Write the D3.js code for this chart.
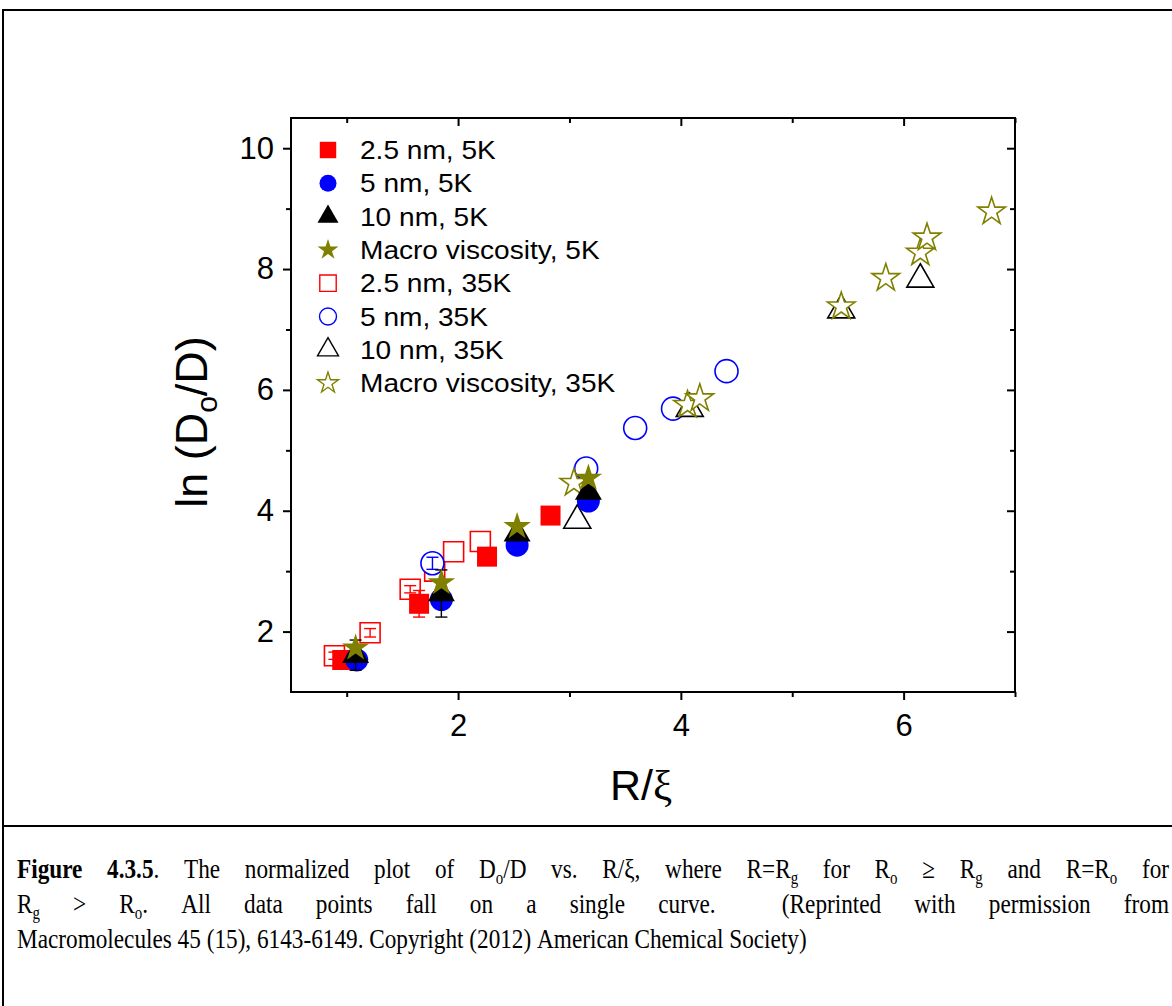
<!DOCTYPE html>
<html>
<head>
<meta charset="utf-8">
<script src="https://cdn.jsdelivr.net/npm/d3@7"></script>
<style>
  body { margin: 0; background: #fff; }
  svg { display: block; }
</style>
</head>
<body>
<svg id="fig" width="1172" height="1006"></svg>
<script>
// ---- data: R/xi (x), ln(Do/D) (y), error half-heights ----
// 5K matrix (filled markers)
const sq5K_x  = [0.96, 1.65, 2.26, 2.83];
const sq5K_y  = [1.53, 2.46, 3.24, 3.92];
const sq5K_e  = [0.06, 0.22, 0, 0];

const ci5K_x  = [1.09, 1.85, 2.53, 3.17];
const ci5K_y  = [1.53, 2.53, 3.43, 4.16];
const ci5K_e  = [0, 0, 0, 0];

const tr5K_x  = [1.08, 1.85, 2.53, 3.17];
const tr5K_y  = [1.61, 2.63, 3.62, 4.31];
const tr5K_e  = [0.25, 0.39, 0, 0];

const st5K_x  = [1.08, 1.85, 2.53, 3.17];
const st5K_y  = [1.73, 2.81, 3.74, 4.54];

// 35K matrix (open markers)
const sq35K_x = [0.89, 1.21, 1.57, 1.79, 1.96, 2.20];
const sq35K_y = [1.60, 1.98, 2.70, 3.00, 3.32, 3.49];
const sq35K_e = [0.06, 0.07, 0.06, 0, 0, 0];

const ci35K_x = [1.77, 3.15, 3.59, 3.93, 4.41];
const ci35K_y = [3.13, 4.70, 5.37, 5.69, 6.31];
const ci35K_e = [0.10, 0, 0, 0, 0];

const tr35K_x = [3.07, 4.08, 5.44, 6.15];
const tr35K_y = [3.84, 5.69, 7.32, 7.83];

const st35K_x = [3.04, 4.06, 4.17, 5.44, 5.84, 6.15, 6.21, 6.79];
const st35K_y = [4.46, 5.75, 5.86, 7.38, 7.85, 8.27, 8.52, 8.95];

const legendLabels = [
  "2.5 nm, 5K", "5 nm, 5K", "10 nm, 5K", "Macro viscosity, 5K",
  "2.5 nm, 35K", "5 nm, 35K", "10 nm, 35K", "Macro viscosity, 35K"
];

const xMajorTicks = [2, 4, 6];
const xMinorTicks = [1, 3, 5, 7];
const yMajorTicks = [2, 4, 6, 8, 10];
const yMinorTicks = [3, 5, 7, 9];

const captionLines = [
  "**Figure 4.3.5**. The normalized plot of D_{o}/D vs. R/ξ, where R=R_{g} for R_{o} ≥ R_{g} and R=R_{o} for",
  "R_{g} > R_{o}. All data points fall on a single curve.  (Reprinted with permission from",
  "Macromolecules 45 (15), 6143-6149. Copyright (2012) American Chemical Society)"
];

// ---- colours ----
const RED = "#ff0000", BLUE = "#0000ff", BLACK = "#000000", OLIVE = "#808000";

const svg = d3.select("#fig");
const SANS = "'Liberation Sans', Arial, sans-serif";
const SERIF = "'Liberation Serif', 'Times New Roman', serif";

// ---- outer frame of the figure ----
svg.append("path")
  .attr("d", "M1172,10 H3 V1006 M3,826 H1172")
  .attr("fill", "none").attr("stroke", "#000").attr("stroke-width", 2);

// ---- scales ----
const plot = { left: 291, right: 1015, top: 118, bottom: 692 };
const x = d3.scaleLinear().domain([0.5, 7]).range([plot.left, plot.right]);
const y = d3.scaleLinear().domain([1, 10.5]).range([plot.bottom, plot.top]);

// ---- axes ----
function styleAxis(g) {
  g.select(".domain").remove();
  g.selectAll("line").attr("stroke", "#000").attr("stroke-width", 2);
  g.selectAll("text").attr("font-family", SANS).attr("font-size", 31).attr("fill", "#000");
}
const MAJ = 8, MIN = 5;
svg.append("g").attr("transform", `translate(0,${plot.bottom})`)
  .call(d3.axisBottom(x).tickValues(xMajorTicks).tickSize(MAJ).tickPadding(14).tickFormat(d3.format("d")))
  .call(styleAxis);
svg.append("g").attr("transform", `translate(0,${plot.bottom})`)
  .call(d3.axisBottom(x).tickValues(xMinorTicks).tickSize(MIN).tickFormat(""))
  .call(styleAxis);
svg.append("g").attr("transform", `translate(${plot.left},0)`)
  .call(d3.axisLeft(y).tickValues(yMajorTicks).tickSize(MAJ).tickPadding(9).tickFormat(d3.format("d")))
  .call(styleAxis);
svg.append("g").attr("transform", `translate(${plot.left},0)`)
  .call(d3.axisLeft(y).tickValues(yMinorTicks).tickSize(MIN).tickFormat(""))
  .call(styleAxis);
// mirrored top / right axes with inward ticks
svg.append("g").attr("transform", `translate(0,${plot.top})`)
  .call(d3.axisTop(x).tickValues(xMajorTicks).tickSize(-MAJ).tickFormat(""))
  .call(styleAxis);
svg.append("g").attr("transform", `translate(0,${plot.top})`)
  .call(d3.axisTop(x).tickValues(xMinorTicks).tickSize(-MIN).tickFormat(""))
  .call(styleAxis);
svg.append("g").attr("transform", `translate(${plot.right},0)`)
  .call(d3.axisRight(y).tickValues(yMajorTicks).tickSize(-MAJ).tickFormat(""))
  .call(styleAxis);
svg.append("g").attr("transform", `translate(${plot.right},0)`)
  .call(d3.axisRight(y).tickValues(yMinorTicks).tickSize(-MIN).tickFormat(""))
  .call(styleAxis);

svg.append("rect")
  .attr("x", plot.left).attr("y", plot.top)
  .attr("width", plot.right - plot.left).attr("height", plot.bottom - plot.top)
  .attr("fill", "none").attr("stroke", "#000").attr("stroke-width", 2);

// ---- axis titles ----
const xt = svg.append("text")
  .attr("x", 641).attr("y", 800)
  .attr("text-anchor", "middle").attr("font-family", SANS).attr("font-size", 43);
xt.append("tspan").text("R/");
xt.append("tspan").attr("font-family", SERIF).text("ξ");

const yt = svg.append("text")
  .attr("transform", "translate(207,422) rotate(-90)")
  .attr("text-anchor", "middle").attr("font-family", SANS).attr("font-size", 45);
yt.append("tspan").text("ln (D");
yt.append("tspan").attr("font-size", 30).attr("dy", 10).text("o");
yt.append("tspan").attr("dy", -10).text("/D)");

// ---- marker shapes ----
const shapes = {
  square:   d3.symbolSquare,
  circle:   d3.symbolCircle,
  triangle: d3.symbolTriangle,
  star:     d3.symbolStar
};
// symbol areas: squares ~20px, circles ~23px, triangles ~27px wide, stars ~29px across
const plotSize = { square: 400, circle: 415, triangle: 315, star: 236 };
const legendSize = { square: 270, circle: 227, triangle: 191, star: 136 };

function zip(xs, ys, es) {
  return xs.map((v, i) => ({ x: v, y: ys[i], e: es ? es[i] : 0 }));
}

const series5K = [
  { pts: zip(sq5K_x, sq5K_y, sq5K_e), shape: "square",   color: RED,   filled: true },
  { pts: zip(ci5K_x, ci5K_y, ci5K_e), shape: "circle",   color: BLUE,  filled: true },
  { pts: zip(tr5K_x, tr5K_y, tr5K_e), shape: "triangle", color: BLACK, filled: true },
  { pts: zip(st5K_x, st5K_y),         shape: "star",     color: OLIVE, filled: true }
];
const series35K = [
  { pts: zip(sq35K_x, sq35K_y, sq35K_e), shape: "square",   color: RED,   filled: false },
  { pts: zip(ci35K_x, ci35K_y, ci35K_e), shape: "circle",   color: BLUE,  filled: false },
  { pts: zip(tr35K_x, tr35K_y),          shape: "triangle", color: BLACK, filled: false },
  { pts: zip(st35K_x, st35K_y),          shape: "star",     color: OLIVE, filled: false }
];

function drawSeries(s) {
  const g = svg.append("g");
  const sym = d3.symbol().type(shapes[s.shape]).size(plotSize[s.shape]);
  g.selectAll("path.mk").data(s.pts).join("path")
    .attr("class", "mk")
    .attr("transform", d => `translate(${x(d.x)},${y(d.y)})`)
    .attr("d", sym)
    .attr("fill", s.filled ? s.color : "#fff")
    .attr("stroke", s.filled ? "none" : s.color)
    .attr("stroke-width", 1.6);
  // vertical error bars with caps
  const eb = g.selectAll("g.eb").data(s.pts.filter(d => d.e > 0)).join("g").attr("class", "eb")
    .attr("stroke", s.color).attr("stroke-width", 1.4);
  eb.append("line")
    .attr("x1", d => x(d.x)).attr("x2", d => x(d.x))
    .attr("y1", d => y(d.y - d.e)).attr("y2", d => y(d.y + d.e));
  [1, -1].forEach(sgn => {
    eb.append("line")
      .attr("x1", d => x(d.x) - 6).attr("x2", d => x(d.x) + 6)
      .attr("y1", d => y(d.y + sgn * d.e)).attr("y2", d => y(d.y + sgn * d.e));
  });
}
// open (35K) markers underneath, filled (5K) on top
series35K.forEach(drawSeries);
series5K.forEach(drawSeries);

// ---- legend ----
const legendSeries = series5K.concat(series35K);
const lg = svg.append("g");
legendSeries.forEach((s, i) => {
  const cy = 150 + i * 33.3;
  lg.append("path")
    .attr("transform", `translate(328,${cy})`)
    .attr("d", d3.symbol().type(shapes[s.shape]).size(legendSize[s.shape]))
    .attr("fill", s.filled ? s.color : "#fff")
    .attr("stroke", s.filled ? "none" : s.color)
    .attr("stroke-width", 1.4);
  lg.append("text")
    .attr("transform", `translate(360,${cy + 9}) scale(1.08,1)`)
    .attr("font-family", SANS).attr("font-size", 26)
    .text(legendLabels[i]);
});

// ---- caption (justified, narrow serif like the source page) ----
function parseRuns(word, state) {
  const runs = [];
  let buf = "", i = 0;
  const flush = () => { if (buf) { runs.push({ t: buf, b: state.bold, s: false }); buf = ""; } };
  while (i < word.length) {
    if (word.startsWith("**", i)) { flush(); state.bold = !state.bold; i += 2; }
    else if (word.startsWith("_{", i)) {
      flush();
      const j = word.indexOf("}", i);
      runs.push({ t: word.slice(i + 2, j), b: state.bold, s: true });
      i = j + 1;
    } else { buf += word[i]; i++; }
  }
  flush();
  return runs;
}

const CAP_LEFT = 17, CAP_RIGHT = 1169, CAP_SIZE = 28, CAP_SX = 0.83;
const capBase = [878, 913, 948];
captionLines.forEach((line, li) => {
  const state = { bold: false };
  const tokens = line.split(/( +)/);
  const words = [], gaps = [];
  tokens.forEach(tk => {
    if (/^ +$/.test(tk)) gaps.push(tk.length);
    else if (tk.length) words.push(parseRuns(tk, state));
  });
  const lineG = svg.append("g")
    .attr("transform", `translate(${CAP_LEFT},${capBase[li]}) scale(${CAP_SX},1)`);
  const nodes = words.map(runs => {
    const t = lineG.append("text")
      .attr("font-family", SERIF).attr("font-size", CAP_SIZE);
    let off = 0;
    runs.forEach(r => {
      const target = r.s ? 6 : 0;
      t.append("tspan")
        .attr("dy", target - off)
        .attr("font-weight", r.b ? "bold" : "normal")
        .attr("font-size", r.s ? 18 : CAP_SIZE)
        .text(r.t);
      off = target;
    });
    return t;
  });
  const widths = nodes.map(n => n.node().getComputedTextLength());
  const total = d3.sum(widths);
  const justify = li < captionLines.length - 1;
  const span = (CAP_RIGHT - CAP_LEFT) / CAP_SX;
  const unit = justify ? (span - total) / d3.sum(gaps) : CAP_SIZE * 0.25;
  let cx = 0;
  nodes.forEach((n, i) => {
    n.attr("x", cx);
    cx += widths[i] + (i < gaps.length ? gaps[i] * unit : 0);
  });
});
</script>
</body>
</html>
